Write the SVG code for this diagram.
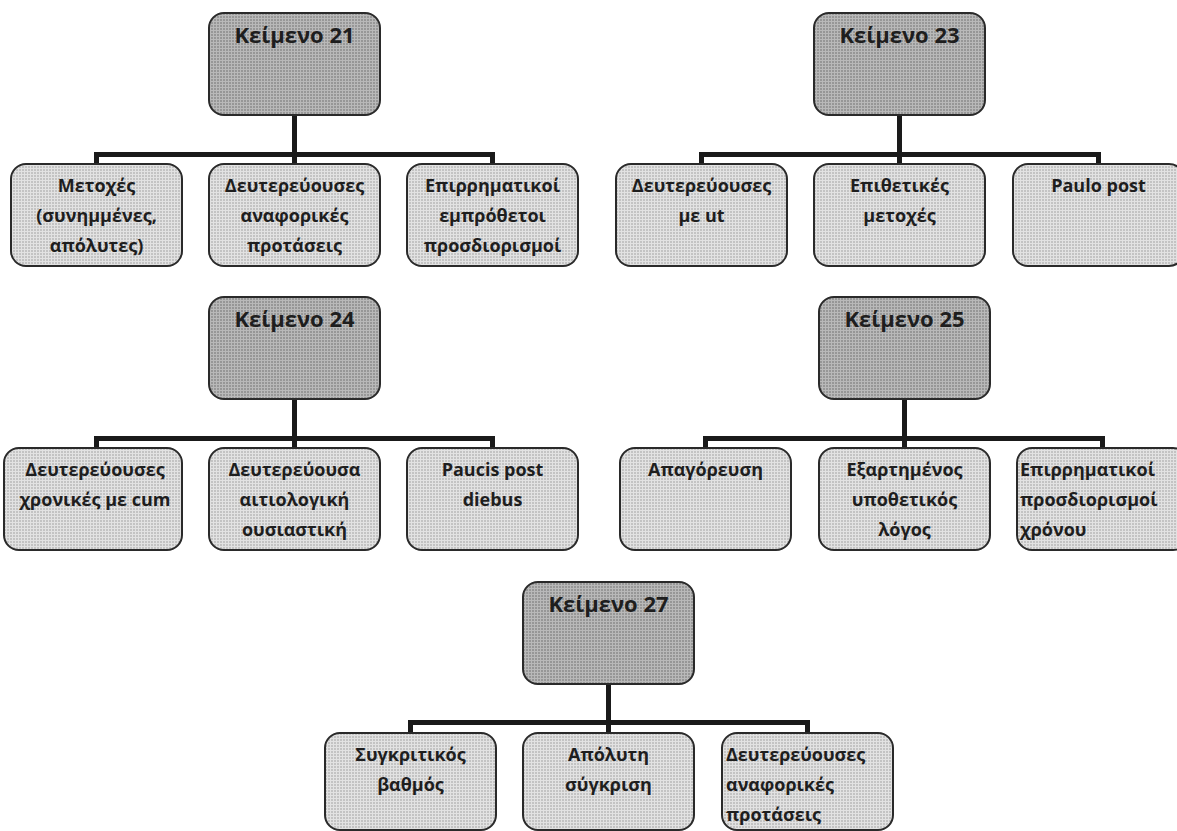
<svg xmlns="http://www.w3.org/2000/svg" width="1177" height="831" viewBox="0 0 1177 831">
<defs>
<pattern id="pd" width="3" height="3" patternUnits="userSpaceOnUse"><rect width="3" height="3" fill="#979797"/><path d="M0 0.5H3M0.5 0V3" stroke="#b9b9b9" stroke-width="1"/></pattern>
<pattern id="pl" width="3" height="3" patternUnits="userSpaceOnUse"><rect width="3" height="3" fill="#c3c3c3"/><path d="M0 0.5H3M0.5 0V3" stroke="#e2e2e2" stroke-width="1"/></pattern>
<style>
.root{fill:url(#pd);stroke:#2a2a2a;stroke-width:2}
.child{fill:url(#pl);stroke:#2a2a2a;stroke-width:2}
.rt{font-family:"Open Sans","Noto Sans",sans-serif;font-weight:bold;font-size:22px;fill:#1e1e1e;text-anchor:middle}
.ct{font-family:"Open Sans","Noto Sans",sans-serif;font-weight:bold;font-size:18px;fill:#1e1e1e;text-anchor:middle}
.lt{text-anchor:start}
.conn{fill:none;stroke:#1a1a1a;stroke-width:5;stroke-linejoin:miter}
</style>
</defs>
<rect width="1177" height="831" fill="#ffffff"/>
<g id="connectors" class="conn">
<path d="M96.5 164V154.5H492.5V164M294.5 115V164"/>
<path d="M701.5 164V154.5H1098.5V164M899.5 115V164"/>
<path d="M96.5 448V438.5H492.5V448M294.5 399V448"/>
<path d="M705.5 448V438.5H1102.5V448M904.5 399V448"/>
<path d="M410.5 733V722.5H807.5V733M608.5 684V733"/>
</g>
<g id="k21">
<rect class="root" x="209" y="13" width="171" height="102" rx="15"/>
<text class="rt" x="294.5" y="43">Κείμενο 21</text>
</g>
<g id="k21-a">
<rect class="child" x="11" y="164" width="171" height="102" rx="15"/>
<text class="ct" x="96.5" y="191.5">Μετοχές</text>
<text class="ct" x="96.5" y="221.5">(συνημμένες,</text>
<text class="ct" x="96.5" y="251.5">απόλυτες)</text>
</g>
<g id="k21-b">
<rect class="child" x="209" y="164" width="171" height="102" rx="15"/>
<text class="ct" x="294.5" y="191.5">Δευτερεύουσες</text>
<text class="ct" x="294.5" y="221.5">αναφορικές</text>
<text class="ct" x="294.5" y="251.5">προτάσεις</text>
</g>
<g id="k21-c">
<rect class="child" x="407" y="164" width="171" height="102" rx="15"/>
<text class="ct" x="492.5" y="191.5">Επιρρηματικοί</text>
<text class="ct" x="492.5" y="221.5">εμπρόθετοι</text>
<text class="ct" x="492.5" y="251.5">προσδιορισμοί</text>
</g>
<g id="k23">
<rect class="root" x="814" y="13" width="171" height="102" rx="15"/>
<text class="rt" x="899.5" y="43">Κείμενο 23</text>
</g>
<g id="k23-a">
<rect class="child" x="616" y="164" width="171" height="102" rx="15"/>
<text class="ct" x="701.5" y="191.5">Δευτερεύουσες</text>
<text class="ct" x="701.5" y="221.5">με ut</text>
</g>
<g id="k23-b">
<rect class="child" x="814" y="164" width="171" height="102" rx="15"/>
<text class="ct" x="899.5" y="191.5">Επιθετικές</text>
<text class="ct" x="899.5" y="221.5">μετοχές</text>
</g>
<g id="k23-c">
<rect class="child" x="1013" y="164" width="171" height="102" rx="15"/>
<text class="ct" x="1098.5" y="191.5">Paulo post</text>
</g>
<g id="k24">
<rect class="root" x="209" y="297" width="171" height="102" rx="15"/>
<text class="rt" x="294.5" y="327">Κείμενο 24</text>
</g>
<g id="k24-a">
<rect class="child" x="4" y="448" width="178" height="102" rx="15"/>
<text class="ct" x="95" y="475.5">Δευτερεύουσες</text>
<text class="ct" x="95" y="505.5">χρονικές με cum</text>
</g>
<g id="k24-b">
<rect class="child" x="209" y="448" width="171" height="102" rx="15"/>
<text class="ct" x="294.5" y="475.5">Δευτερεύουσα</text>
<text class="ct" x="294.5" y="505.5">αιτιολογική</text>
<text class="ct" x="294.5" y="535.5">ουσιαστική</text>
</g>
<g id="k24-c">
<rect class="child" x="407" y="448" width="171" height="102" rx="15"/>
<text class="ct" x="492.5" y="475.5">Paucis post</text>
<text class="ct" x="492.5" y="505.5">diebus</text>
</g>
<g id="k25">
<rect class="root" x="819" y="297" width="171" height="102" rx="15"/>
<text class="rt" x="904.5" y="327">Κείμενο 25</text>
</g>
<g id="k25-a">
<rect class="child" x="620" y="448" width="171" height="102" rx="15"/>
<text class="ct" x="705.5" y="475.5">Απαγόρευση</text>
</g>
<g id="k25-b">
<rect class="child" x="819" y="448" width="171" height="102" rx="15"/>
<text class="ct" x="904.5" y="475.5">Εξαρτημένος</text>
<text class="ct" x="904.5" y="505.5">υποθετικός</text>
<text class="ct" x="904.5" y="535.5">λόγος</text>
</g>
<g id="k25-c">
<rect class="child" x="1017" y="448" width="171" height="102" rx="15"/>
<text class="ct lt" x="1020" y="475.5">Επιρρηματικοί</text>
<text class="ct lt" x="1020" y="505.5">προσδιορισμοί</text>
<text class="ct lt" x="1020" y="535.5">χρόνου</text>
</g>
<g id="k27">
<rect class="root" x="523" y="582" width="171" height="102" rx="15"/>
<text class="rt" x="608.5" y="612">Κείμενο 27</text>
</g>
<g id="k27-a">
<rect class="child" x="325" y="733" width="171" height="97" rx="15"/>
<text class="ct" x="410.5" y="760.5">Συγκριτικός</text>
<text class="ct" x="410.5" y="790.5">βαθμός</text>
</g>
<g id="k27-b">
<rect class="child" x="523" y="733" width="171" height="97" rx="15"/>
<text class="ct" x="608.5" y="760.5">Απόλυτη</text>
<text class="ct" x="608.5" y="790.5">σύγκριση</text>
</g>
<g id="k27-c">
<rect class="child" x="722" y="733" width="171" height="97" rx="15"/>
<text class="ct lt" x="726" y="760.5">Δευτερεύουσες</text>
<text class="ct lt" x="726" y="790.5">αναφορικές</text>
<text class="ct lt" x="726" y="820.5">προτάσεις</text>
</g>
</svg>
